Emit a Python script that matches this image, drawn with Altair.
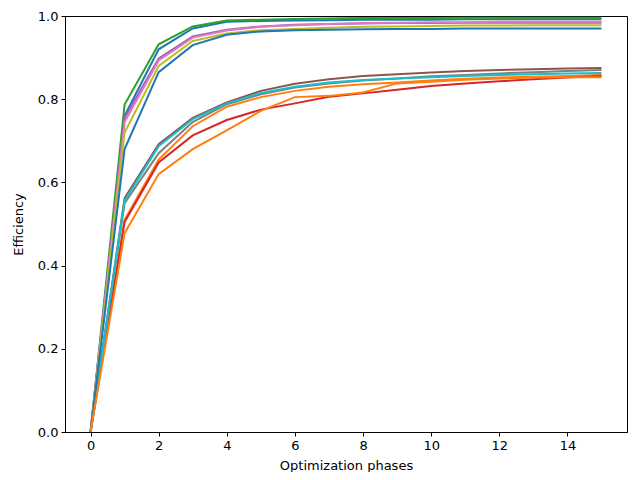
import altair as alt
import pandas as pd

phases = list(range(16))

run_names = ["r00", "r01", "r02", "r03", "r04", "r05", "r06", "r07", "r08", "r09", "r10", "r11"]
run_colors = ["#1f77b4", "#ff7f0e", "#2ca02c", "#d62728", "#9467bd", "#8c564b",
              "#e377c2", "#7f7f7f", "#bcbd22", "#17becf", "#1f77b4", "#ff7f0e"]

r00 = [0, 0.760, 0.920, 0.970, 0.986, 0.988, 0.989, 0.990, 0.991, 0.991, 0.991, 0.992, 0.992, 0.992, 0.992, 0.992]
r01 = [0, 0.510, 0.655, 0.735, 0.782, 0.805, 0.820, 0.830, 0.836, 0.840, 0.845, 0.849, 0.852, 0.854, 0.856, 0.858]
r02 = [0, 0.787, 0.932, 0.975, 0.989, 0.991, 0.993, 0.994, 0.995, 0.995, 0.995, 0.996, 0.996, 0.996, 0.996, 0.996]
r03 = [0, 0.505, 0.648, 0.713, 0.750, 0.775, 0.790, 0.806, 0.814, 0.823, 0.832, 0.838, 0.843, 0.848, 0.852, 0.856]
r04 = [0, 0.755, 0.898, 0.951, 0.967, 0.975, 0.979, 0.981, 0.982, 0.983, 0.983, 0.984, 0.984, 0.984, 0.984, 0.984]
r05 = [0, 0.562, 0.692, 0.755, 0.792, 0.820, 0.837, 0.848, 0.856, 0.860, 0.864, 0.868, 0.870, 0.872, 0.874, 0.875]
r06 = [0, 0.745, 0.893, 0.948, 0.965, 0.974, 0.978, 0.981, 0.983, 0.984, 0.985, 0.985, 0.986, 0.986, 0.986, 0.986]
r07 = [0, 0.550, 0.670, 0.745, 0.788, 0.812, 0.828, 0.838, 0.845, 0.850, 0.855, 0.858, 0.862, 0.865, 0.868, 0.870]
r08 = [0, 0.720, 0.880, 0.940, 0.958, 0.966, 0.969, 0.972, 0.974, 0.975, 0.976, 0.977, 0.977, 0.978, 0.978, 0.978]
r09 = [0, 0.556, 0.687, 0.752, 0.790, 0.815, 0.830, 0.840, 0.846, 0.850, 0.853, 0.856, 0.858, 0.860, 0.862, 0.863]
r10 = [0, 0.680, 0.865, 0.930, 0.955, 0.963, 0.966, 0.967, 0.968, 0.969, 0.969, 0.970, 0.970, 0.970, 0.970, 0.970]
r11 = [0, 0.478, 0.620, 0.680, 0.725, 0.772, 0.805, 0.808, 0.816, 0.838, 0.842, 0.847, 0.850, 0.852, 0.853, 0.853]

series = [r00, r01, r02, r03, r04, r05, r06, r07, r08, r09, r10, r11]

rows = []
for i, (name, vals) in enumerate(zip(run_names, series)):
    for p, v in zip(phases, vals):
        rows.append({"run": name, "order": i, "phase": p, "eff": v})
df = pd.DataFrame(rows)

font = "DejaVu Sans"

chart = alt.Chart(df).mark_line(strokeWidth=2, clip=True).encode(
    x=alt.X("phase:Q", title="Optimization phases",
            scale=alt.Scale(domain=[-0.75, 15.75], nice=False, zero=False),
            axis=alt.Axis(values=[0, 2, 4, 6, 8, 10, 12, 14], format="d", grid=False,
                          tickSize=4, tickColor="black", domainColor="black",
                          labelColor="black", titleColor="black",
                          labelFontSize=13, titleFontSize=13, titleFontWeight="normal",
                          labelFont=font, titleFont=font, titlePadding=7, labelPadding=3)),
    y=alt.Y("eff:Q", title="Efficiency",
            scale=alt.Scale(domain=[0, 1], nice=False),
            axis=alt.Axis(values=[0, 0.2, 0.4, 0.6, 0.8, 1.0], format=".1f", grid=False,
                          tickSize=4, tickColor="black", domainColor="black",
                          labelColor="black", titleColor="black",
                          labelFontSize=13, titleFontSize=13, titleFontWeight="normal",
                          labelFont=font, titleFont=font, titlePadding=12, labelPadding=3)),
    color=alt.Color("run:N", scale=alt.Scale(domain=run_names, range=run_colors), legend=None),
    order=alt.Order("order:Q"),
).properties(
    width=562, height=416,
    autosize=alt.AutoSizeParams(type="none"),
    padding={"left": 57, "top": 8, "right": 5, "bottom": 40},
).configure_view(stroke="black", strokeWidth=1)

chart.save("out.html", embed_options={"renderer": "svg", "actions": False})
